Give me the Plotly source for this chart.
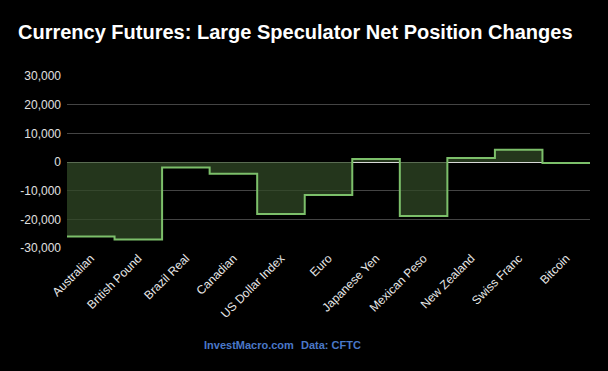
import numpy as np
import plotly.graph_objects as go

categories = ["Australian", "British Pound", "Brazil Real", "Canadian", "US Dollar Index",
              "Euro", "Japanese Yen", "Mexican Peso", "New Zealand", "Swiss Franc", "Bitcoin"]
net_changes = [-26000, -27000, -1900, -4100, -18100, -11500, 1050, -18800, 1400, 4300, -350]
y_ticks = [-30000, -20000, -10000, 0, 10000, 20000, 30000]
y_tick_labels = ["-30,000", "-20,000", "-10,000", "0", "10,000", "20,000", "30,000"]

n = len(categories)
idx = np.arange(n)
# step edges in data units (each category spans one unit centred on its index)
x_edges = np.append(idx - 0.5, n - 0.5)
y_steps = net_changes + [net_changes[-1]]

fig = go.Figure()
fig.add_trace(go.Scatter(
    x=x_edges, y=y_steps, mode="lines", line_shape="hv",
    line=dict(color="#7cbf6a", width=2),
    fill="tozeroy", fillcolor="rgba(48,72,38,0.75)",
    hoverinfo="skip", showlegend=False,
))

ann_font = dict(family="Liberation Sans, Arial, sans-serif", size=11, color="#4a78c8")
fig.update_layout(
    width=608, height=371,
    paper_bgcolor="#000000", plot_bgcolor="#000000",
    margin=dict(l=67, r=18, t=76, b=123),
    title=dict(text="<b>Currency Futures: Large Speculator Net Position Changes</b>",
               x=18 / 608, xanchor="left", y=1 - 32 / 371, yanchor="middle",
               font=dict(family="Liberation Sans, Arial, sans-serif", size=20, color="#ffffff")),
    font=dict(family="Liberation Sans, Arial, sans-serif", color="#e0e0e0"),
    xaxis=dict(range=[-0.5, n - 0.5], tickmode="array", tickvals=idx, ticktext=categories,
               tickangle=-45, showgrid=False, zeroline=False, showline=False,
               tickfont=dict(size=12, color="#e8e8e8"), ticks=""),
    yaxis=dict(range=[-30000, 30000], tickmode="array", tickvals=y_ticks, ticktext=y_tick_labels,
               showgrid=True, gridcolor="#444444", gridwidth=1,
               zeroline=True, zerolinecolor="#d8d8d8", zerolinewidth=1.2,
               tickfont=dict(size=12, color="#e0e0e0"), ticks="", showline=False,
               ticklabelstandoff=5),
    annotations=[
        dict(text="<b>InvestMacro.com</b>", xref="paper", yref="paper",
             x=(249 - 67) / 523, y=-(345 - 248) / 172, xanchor="center", yanchor="middle",
             showarrow=False, font=ann_font),
        dict(text="<b>Data: CFTC</b>", xref="paper", yref="paper",
             x=(331 - 67) / 523, y=-(345 - 248) / 172, xanchor="center", yanchor="middle",
             showarrow=False, font=ann_font),
    ],
)

fig.write_html("out.html", config={"displayModeBar": False},
               post_script="document.body.style.margin='0';document.body.style.background='#000';")
